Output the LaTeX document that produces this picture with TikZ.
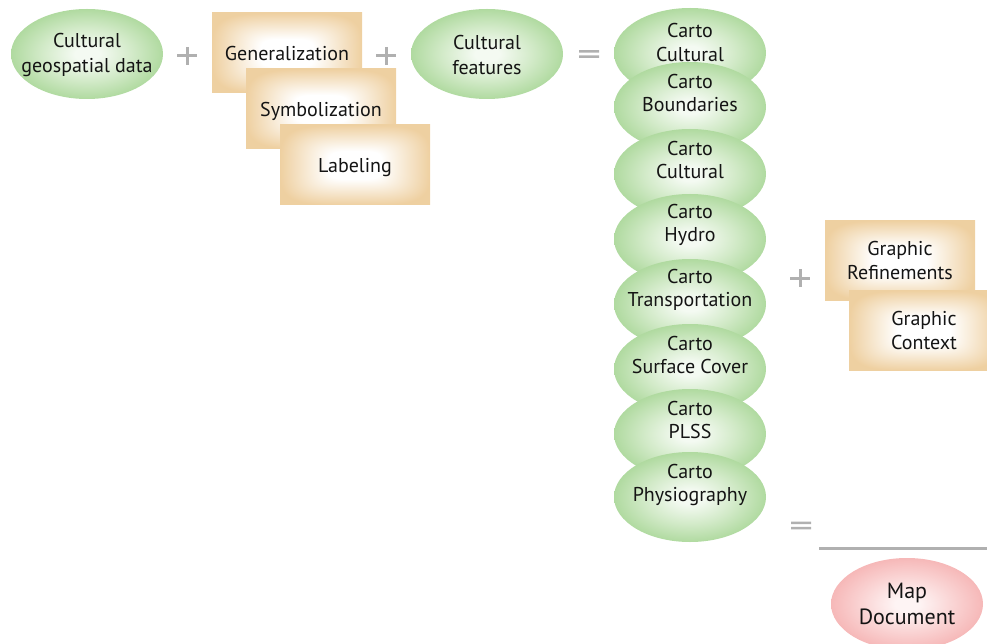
\documentclass[tikz,border=0pt]{standalone}
\usepackage{fontspec}
\setmainfont{PT Sans}
\usetikzlibrary{shapes.geometric}

\definecolor{leafedge}{RGB}{176,218,160}
\definecolor{leafmid}{RGB}{210,234,200}
\definecolor{leafcore}{RGB}{244,250,242}
\definecolor{roseedge}{RGB}{246,184,184}
\definecolor{rosemid}{RGB}{250,212,212}
\definecolor{rosecore}{RGB}{254,244,244}
\definecolor{signgray}{RGB}{176,176,176}
\definecolor{inktext}{RGB}{20,20,20}

% soft glow for the ellipses (the path outline sits at 25bp)
\pgfdeclareradialshading{leafglow}{\pgfpoint{0bp}{0bp}}{color(0bp)=(leafcore); color(4bp)=(leafcore); color(15bp)=(leafmid); color(25bp)=(leafedge); color(50bp)=(leafedge)}
\pgfdeclareradialshading{roseglow}{\pgfpoint{0bp}{0bp}}{color(0bp)=(rosecore); color(4bp)=(rosecore); color(15bp)=(rosemid); color(25bp)=(roseedge); color(50bp)=(roseedge)}

% rounded-rectangle glow for the process boxes: white core fading to tan edges
\pgfdeclarefunctionalshading{tanbox}{\pgfpoint{-50bp}{-50bp}}{\pgfpoint{50bp}{50bp}}{}{
  25 div dup mul dup mul exch 25 div dup mul dup mul add sqrt sqrt
  0.35 sub 0.65 div dup 0 lt {pop 0} if dup 1 gt {pop 1} if
  dup 0.065 mul 1 exch sub exch
  dup 0.185 mul 1 exch sub exch
  0.37 mul 1 exch sub
}

\tikzset{
  lbl/.style={align=center, text=inktext, inner sep=0pt,
    font=\fontsize{20}{23.5}\selectfont},
  widelbl/.style={lbl, font=\fontsize{20}{25}\selectfont},
  leaf/.style={ellipse, minimum width=152pt, minimum height=90pt, inner sep=0pt,
    shading=leafglow},
  rose/.style={ellipse, minimum width=152pt, minimum height=92pt, inner sep=0pt,
    shading=roseglow},
  biglbl/.style={lbl, font=\fontsize{22}{26}\selectfont},
  tan/.style={rectangle, minimum width=150pt, minimum height=80pt, inner sep=0pt,
    shading=tanbox, lbl},
  % single-line box captions sit a little lower than the box centre
  oneline/.style={text depth=0pt},
  plussign/.style={minimum width=20pt, minimum height=18pt, inner sep=0pt,
    path picture={\draw[signgray, line width=3pt]
      (path picture bounding box.west) -- (path picture bounding box.east)
      (path picture bounding box.north) -- (path picture bounding box.south);}},
  equalsign/.style={minimum width=20pt, minimum height=10pt, inner sep=0pt,
    path picture={\fill[signgray]
      ([yshift=1.4pt]path picture bounding box.west) rectangle ([yshift=3.8pt]path picture bounding box.east)
      ([yshift=-1.4pt]path picture bounding box.west) rectangle ([yshift=-3.8pt]path picture bounding box.east);}},
}

\begin{document}
\begin{tikzpicture}[x=1pt, y=-1pt]
  \useasboundingbox (0,0) rectangle (987,644);

  % inputs
  \node[leaf] (geodata) at (87,54) {};
  \node[widelbl] (geodatat) at (87,55.5) {Cultural\\geospatial data};
  \node[plussign] (plusA) at (187,56) {};
  \node[tan, oneline] (general) at (287,53) {Generalization};
  \node[tan, oneline] (symbol) at (321,109) {Symbolization};
  \node[tan, oneline] (labels) at (355,165) {Labeling};
  \node[plussign] (plusB) at (386,56) {};
  \node[leaf] (features) at (487,54) {};
  \node[widelbl] (featurest) at (487,55.5) {Cultural\\features};
  \node[equalsign] (eqA) at (589,54) {};

  % stack of carto feature classes, each overlapping the one above
  \node[leaf] (s1) at (690,53) {};
  \node[lbl] (s1t) at (690,42.5) {Carto\\Cultural};
  \node[leaf] (s2) at (690,107) {};
  \node[lbl, yshift=14pt] (s2t) at (s2) {Carto\\Boundaries};
  \node[leaf] (s3) at (690,174) {};
  \node[lbl, yshift=14pt] (s3t) at (s3) {Carto\\Cultural};
  \node[leaf] (s4) at (690,239) {};
  \node[lbl, yshift=14pt] (s4t) at (s4) {Carto\\Hydro};
  \node[leaf] (s5) at (690,304) {};
  \node[lbl, yshift=14pt] (s5t) at (s5) {Carto\\Transportation};
  \node[leaf] (s6) at (690,369) {};
  \node[lbl, yshift=14pt] (s6t) at (s6) {Carto\\Surface Cover};
  \node[leaf] (s7) at (690,434) {};
  \node[lbl, yshift=14pt] (s7t) at (s7) {Carto\\PLSS};
  \node[leaf] (s8) at (690,497) {};
  \node[lbl, yshift=12pt] (s8t) at (s8) {Carto\\Physiography};

  % refinements
  \node[plussign] (plusC) at (800,278) {};
  \node[tan] (refine) at (900,260.5) {Graphic\\Refinements};
  \node[tan] (context) at (924,330.5) {Graphic\\Context};

  % result
  \node[equalsign] (eqB) at (801,525.5) {};
  \coordinate (ruleL) at (819,548);
  \coordinate (ruleR) at (990,548);
  \draw[signgray, line width=3pt] (ruleL) -- (ruleR);
  \node[rose] (mapdoc) at (907,604) {};
  \node[biglbl] (mapdoct) at (mapdoc) {Map\\Document};
\end{tikzpicture}
\end{document}
